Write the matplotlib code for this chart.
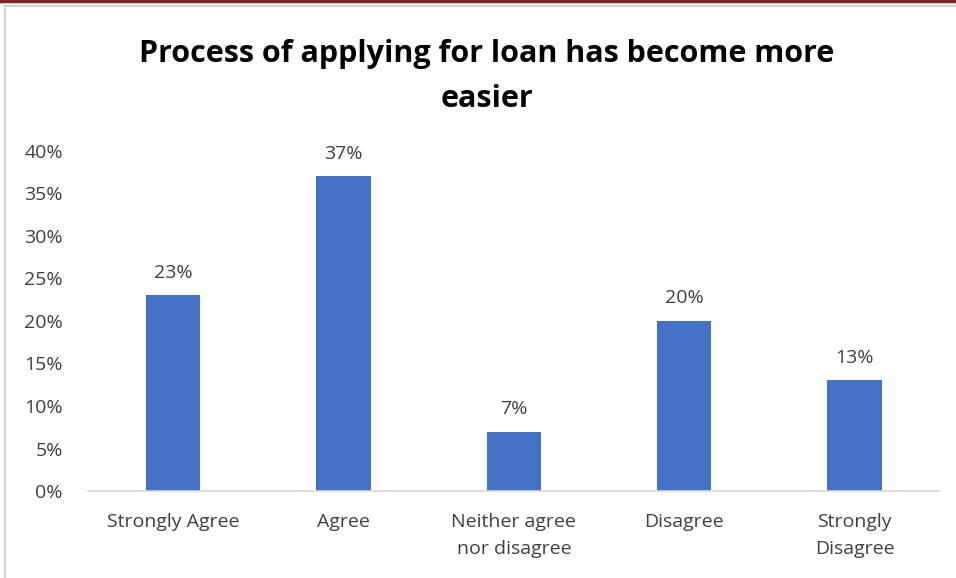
import matplotlib
matplotlib.use("Agg")
import matplotlib.pyplot as plt
from matplotlib.lines import Line2D

plt.rcParams["font.family"] = ["Open Sans", "DejaVu Sans"]

categories = ["Strongly Agree", "Agree", "Neither agree\nnor disagree", "Disagree", "Strongly\nDisagree"]
shares = [0.23, 0.37, 0.07, 0.20, 0.13]
yticks = [0, 0.05, 0.10, 0.15, 0.20, 0.25, 0.30, 0.35, 0.40]

BLUE = "#4472c4"
TEXT = "#404040"

fig = plt.figure(figsize=(9.56, 5.78), dpi=100)
ax = fig.add_axes([0.092, 0.1505, 0.891, 0.5883])

x = range(len(categories))
ax.bar(x, shares, width=0.32, color=BLUE)
for i, v in enumerate(shares):
    ax.text(i, v + 0.016, f"{v:.0%}", ha="center", va="bottom", fontsize=14, color=TEXT)

ax.set_xlim(-0.5, len(categories) - 0.5)
ax.set_ylim(0, 0.40)
ax.set_yticks(yticks)
ax.set_yticklabels([f"{t:.0%}" for t in yticks], fontsize=14, color=TEXT)
ax.set_xticks(list(x))
ax.set_xticklabels(categories, fontsize=14, color=TEXT, linespacing=1.6)
ax.tick_params(length=0)
ax.tick_params(axis="y", pad=18)
ax.tick_params(axis="x", pad=16)
for s in ["top", "right", "left"]:
    ax.spines[s].set_visible(False)
ax.spines["bottom"].set_color("#d9d9d9")
ax.spines["bottom"].set_linewidth(1.2)

fig.text(0.509, 0.932, "Process of applying for loan has become more\neasier", ha="center",
         va="top", fontsize=22, fontweight="bold", color="black", linespacing=1.62)

# frame lines along the top and left edge
fig.add_artist(Line2D([0, 1], [0.998, 0.998], color="#7a2626", lw=2.5))
fig.add_artist(Line2D([0.005, 1], [0.99, 0.99], color="#d4d4d4", lw=1.5))
fig.add_artist(Line2D([0.005, 0.005], [0, 0.99], color="#d4d4d4", lw=1.5))

fig.savefig("out.png", dpi=100)
